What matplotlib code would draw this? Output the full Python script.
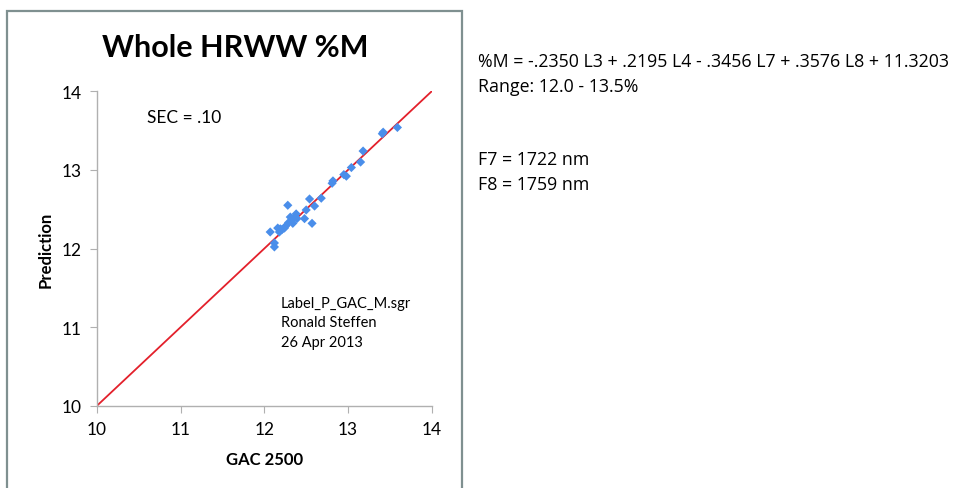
import matplotlib
matplotlib.use("Agg")
import matplotlib.pyplot as plt
from matplotlib.patches import Rectangle

# Data
gac_2500 = [12.07, 12.12, 12.12, 12.16, 12.19, 12.21, 12.18, 12.24, 12.25, 12.28,
            12.29, 12.31, 12.34, 12.35, 12.38, 12.39, 12.48, 12.50, 12.54, 12.57,
            12.60, 12.68, 12.81, 12.82, 12.95, 12.98, 13.04, 13.15, 13.18, 13.41,
            13.42, 13.59]
prediction = [12.21, 12.07, 12.02, 12.26, 12.25, 12.24, 12.21, 12.26, 12.28, 12.55,
              12.33, 12.40, 12.32, 12.38, 12.44, 12.38, 12.38, 12.49, 12.63, 12.32,
              12.54, 12.64, 12.83, 12.86, 12.94, 12.92, 13.03, 13.10, 13.24, 13.46,
              13.48, 13.54]
ideal_line = [10, 14]
x_ticks = [10, 11, 12, 13, 14]
y_ticks = [10, 11, 12, 13, 14]

title = "Whole HRWW %M"
sec_text = "SEC = .10"
file_text = "Label_P_GAC_M.sgr\nRonald Steffen\n26 Apr 2013"
equation_lines = ["%M = -.2350 L3 + .2195 L4 - .3456 L7 + .3576 L8 + 11.3203",
                  "Range: 12.0 - 13.5%"]
filter_lines = ["F7 = 1722 nm", "F8 = 1759 nm"]

plt.rcParams['font.family'] = ['Lato', 'DejaVu Sans']

W, H = 968, 489
fig = plt.figure(figsize=(W / 100, H / 100), dpi=100)

# outer frame
fig.patches.append(Rectangle((7 / W, -0.05), (462 - 7) / W, 1.05 - 12 / H,
                             transform=fig.transFigure, fill=False,
                             edgecolor='#7f9090', linewidth=1.6))

ax = fig.add_axes([97 / W, 1 - 406.7 / H, (431.7 - 97) / W, (406.7 - 92.3) / H])
ax.plot(ideal_line, ideal_line, color='#e3202b', linewidth=1.3, zorder=2)
ax.scatter(gac_2500, prediction, marker='D', s=22, color='#4a8eea',
           edgecolors='none', zorder=3)

ax.set_xlim(10, 14)
ax.set_ylim(10, 14)
ax.set_xticks(x_ticks)
ax.set_yticks(y_ticks)
ax.tick_params(axis='both', direction='out', length=5, color='#b0b0b0',
               labelsize=12.5, pad=6)
for s in ['top', 'right']:
    ax.spines[s].set_visible(False)
for s in ['left', 'bottom']:
    ax.spines[s].set_color('#b0b0b0')
    ax.spines[s].set_linewidth(1.0)

ax.set_xlabel("GAC 2500", fontsize=12, fontweight='bold', labelpad=10)
ax.set_ylabel("Prediction", fontsize=12, fontweight='bold', labelpad=6)

ax.text(10.6, 13.67, sec_text, fontsize=12.5, va='center', ha='left')
ax.text(12.2, 11.40, file_text, fontsize=10.5, va='top', ha='left',
        linespacing=1.5)

fig.text(235 / W, 1 - 48 / H, title, fontsize=22, fontweight='bold',
         ha='center', va='center')

rfont = dict(fontsize=12.8, va='center', ha='left', family=['Open Sans', 'DejaVu Sans'])
fig.text(478 / W, 1 - 62 / H, equation_lines[0], **rfont)
fig.text(478 / W, 1 - 87 / H, equation_lines[1], **rfont)
fig.text(478 / W, 1 - 160 / H, filter_lines[0], **rfont)
fig.text(478 / W, 1 - 185 / H, filter_lines[1], **rfont)

fig.savefig("out.png", dpi=100)
